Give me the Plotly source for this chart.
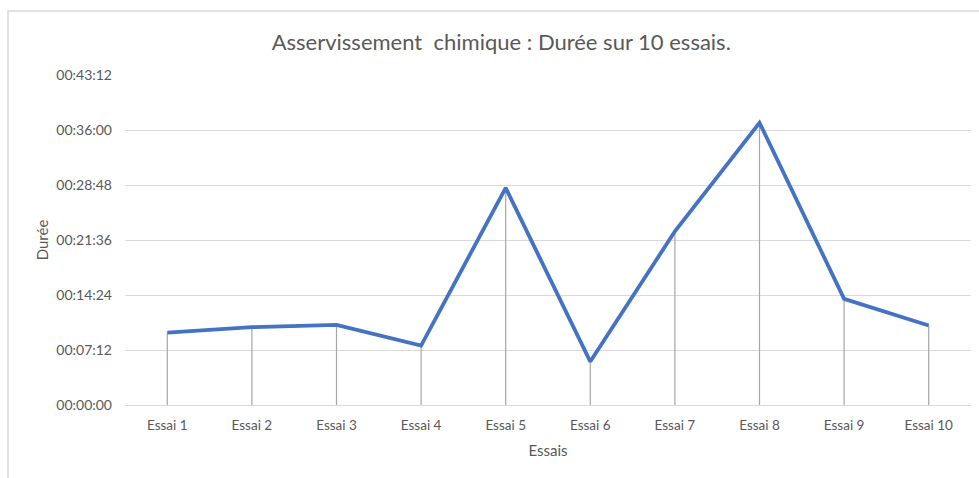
import plotly.graph_objects as go

# Trial names and measured durations (hh:mm:ss)
essais = ["Essai 1", "Essai 2", "Essai 3", "Essai 4", "Essai 5",
          "Essai 6", "Essai 7", "Essai 8", "Essai 9", "Essai 10"]
durees = ["00:09:29", "00:10:11", "00:10:30", "00:07:47", "00:28:25",
          "00:05:41", "00:22:44", "00:36:57", "00:13:54", "00:10:24"]

# Y-axis tick labels (every 7 min 12 s)
tick_labels = ["00:00:00", "00:07:12", "00:14:24", "00:21:36",
               "00:28:48", "00:36:00", "00:43:12"]


def to_seconds(hms):
    h, m, s = (int(p) for p in hms.split(":"))
    return h * 3600 + m * 60 + s


secondes = [to_seconds(d) for d in durees]
tick_vals = [to_seconds(t) for t in tick_labels]

TXT = "#595959"
FONT = "Lato, 'Open Sans', sans-serif"

fig = go.Figure()
fig.add_trace(go.Scatter(
    x=essais,
    y=secondes,
    mode="lines",
    line=dict(color="#4472C4", width=3.8),
    # vertical drop lines from each point down to the axis
    error_y=dict(type="data", symmetric=False,
                 array=[0] * len(secondes), arrayminus=secondes,
                 width=0, color="#A6A6A6", thickness=1.2),
    customdata=durees,
    hovertemplate="%{x}: %{customdata}<extra></extra>",
    showlegend=False,
))

fig.update_layout(
    width=979, height=478,
    margin=dict(l=125, r=8, t=75, b=73),
    paper_bgcolor="white", plot_bgcolor="white",
    font=dict(family=FONT, color=TXT, size=13),
    title=dict(text="Asservissement  chimique : Durée sur 10 essais.",
               xref="container", x=0.512, xanchor="center",
               yref="container", y=1 - 42 / 478, yanchor="middle",
               font=dict(family=FONT, size=22, color=TXT)),
    xaxis=dict(
        type="category",
        showgrid=False,
        showline=True, linecolor="#D9D9D9", linewidth=1,
        ticks="", ticklabelstandoff=8,
        tickfont=dict(size=13.5, color=TXT),
        title=dict(text="Essais", font=dict(size=15, color=TXT), standoff=13),
        fixedrange=True,
    ),
    yaxis=dict(
        range=[0, tick_vals[-1]],
        tickvals=tick_vals, ticktext=tick_labels,
        showgrid=True, gridcolor="#D9D9D9", gridwidth=1,
        zeroline=False, showline=False,
        ticks="", ticklabelstandoff=12,
        tickfont=dict(size=14, color=TXT),
        title=dict(text="Durée", font=dict(size=15, color=TXT), standoff=4),
        fixedrange=True,
    ),
    shapes=[dict(type="rect", xref="paper", yref="paper",
                 x0=(8 - 125) / (979 - 125 - 8), x1=1.1,
                 y0=-0.3, y1=1 + (75 - 11) / (478 - 75 - 73),
                 line=dict(color="#D9D9D9", width=1.5),
                 fillcolor="rgba(0,0,0,0)", layer="below")],
)

fig.write_html("out.html")
